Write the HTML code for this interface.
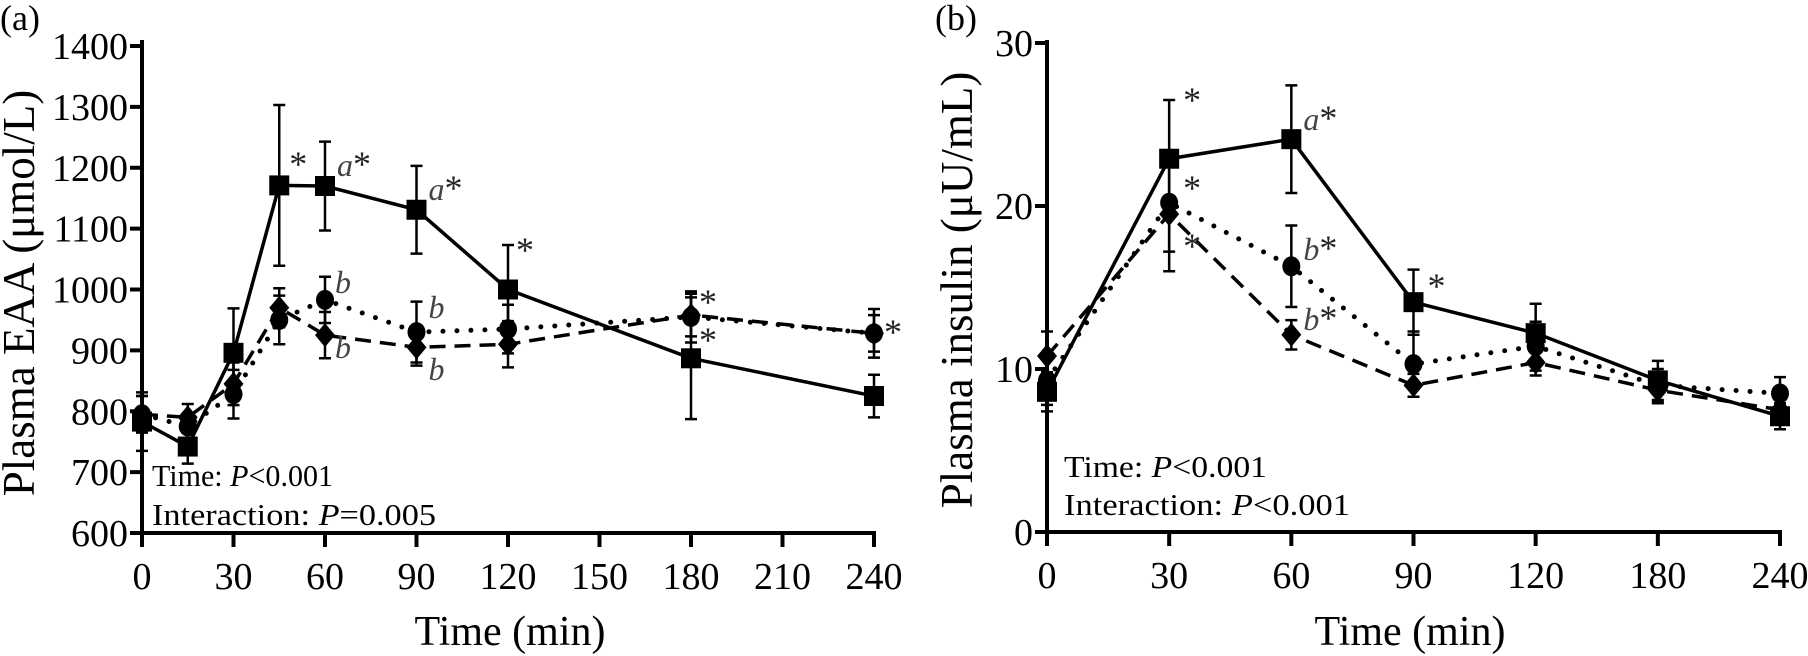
<!DOCTYPE html>
<html><head><meta charset="utf-8">
<style>
html,body{margin:0;padding:0;background:#fff;}
svg{display:block;font-family:"Liberation Serif","DejaVu Serif",serif;}
</style></head>
<body>
<svg id="fig" width="1808" height="656" viewBox="0 0 1808 656" xmlns="http://www.w3.org/2000/svg">
<text x="0" y="30" font-size="36">(a)</text>
<text x="935" y="30" font-size="36">(b)</text>
<text transform="translate(34,293) rotate(-90)" text-anchor="middle" font-size="45">Plasma EAA (μmol/L)</text>
<text transform="translate(972,290) rotate(-90)" text-anchor="middle" font-size="45">Plasma insulin (μU/mL)</text>
<text x="510" y="645" text-anchor="middle" font-size="42">Time (min)</text>
<text x="1410" y="645" text-anchor="middle" font-size="42">Time (min)</text>
<text x="152" y="486" font-size="31" textLength="181" lengthAdjust="spacingAndGlyphs">Time: <tspan font-style="italic">P</tspan>&lt;0.001</text>
<text x="152" y="525" font-size="31" textLength="284" lengthAdjust="spacingAndGlyphs">Interaction: <tspan font-style="italic">P</tspan>=0.005</text>
<text x="1064" y="477" font-size="31" textLength="203" lengthAdjust="spacingAndGlyphs">Time: <tspan font-style="italic">P</tspan>&lt;0.001</text>
<text x="1064" y="515" font-size="31" textLength="286" lengthAdjust="spacingAndGlyphs">Interaction: <tspan font-style="italic">P</tspan>&lt;0.001</text>
<g id="ga"></g><g id="gb"></g>
</svg>
<script>
// Panel A data
const timesA = [0, 15, 30, 45, 60, 90, 120, 180, 240];
const xTicksA = [0, 30, 60, 90, 120, 150, 180, 210, 240];
const yTicksA = [600, 700, 800, 900, 1000, 1100, 1200, 1300, 1400];
const eaaSquare = [783, 742, 896, 1171, 1170, 1131, 1000, 887, 825];
const eaaSquareErr = [48, 28, 73, 132, 73, 72, 73, 100, 35];
const eaaCircle = [795, 775, 828, 950, 983, 930, 935, 955, 928];
const eaaCircleErr = [30, 20, 40, 40, 38, 50, 40, 42, 40];
const eaaDiamond = [795, 790, 845, 970, 925, 905, 910, 958, 928];
const eaaDiamondErr = [30, 22, 35, 32, 38, 30, 38, 35, 30];
// Panel B data
const timesB = ['0', '30', '60', '90', '120', '180', '240'];
const yTicksB = [0, 10, 20, 30];
const insSquare = [8.6, 22.9, 24.1, 14.1, 12.2, 9.3, 7.1];
const insSquareErr = [1.2, 3.6, 3.3, 2.0, 1.8, 1.2, 0.8];
const insCircle = [9.3, 20.2, 16.3, 10.3, 11.4, 9.0, 8.5];
const insCircleErr = [1.5, 3.0, 2.5, 2.0, 1.5, 1.0, 1.0];
const insDiamond = [10.8, 19.5, 12.1, 9.0, 10.4, 8.7, 7.5];
const insDiamondErr = [1.5, 3.5, 0.9, 0.7, 0.8, 0.8, 0.7];

const NS = 'http://www.w3.org/2000/svg';
function mk(parent, tag, attrs, txt) {
  const e = document.createElementNS(NS, tag);
  for (const k in attrs) e.setAttribute(k, attrs[k]);
  if (txt !== undefined) e.textContent = txt;
  parent.appendChild(e);
  return e;
}
const xA = t => 142 + (t / 240) * (874 - 142);
const yA = v => 533 - (v - 600) / 800 * (533 - 46);
const xB = i => 1047 + i * (1780 - 1047) / 6;
const yB = v => 532 - v / 30 * (532 - 43);

function axes(g, x0, x1, y0, y1, xs, xl, ys, yl, tag) {
  let e = mk(g, 'line', {x1: x0, y1: y0, x2: x0, y2: y1, stroke: '#000', 'stroke-width': 4});
  
  
  e = mk(g, 'line', {x1: x0 - 12, y1: y0, x2: x1 + 2, y2: y0, stroke: '#000', 'stroke-width': 4});
  
  
  xs.forEach((px, i) => {
    mk(g, 'line', {x1: px, y1: y0, x2: px, y2: y0 + 14, stroke: '#000', 'stroke-width': 4});
    const t = mk(g, 'text', {x: px, y: y0 + 56, 'text-anchor': 'middle', 'font-size': 38}, xl[i]);
    
    
  });
  ys.forEach((py, i) => {
    mk(g, 'line', {x1: x0 - 12, y1: py, x2: x0, y2: py, stroke: '#000', 'stroke-width': 4});
    const t = mk(g, 'text', {x: x0 - 14, y: py + 13, 'text-anchor': 'end', 'font-size': 38}, yl[i]);
    
    
  });
}
function series(g, xs, vals, errs, ys, marker, dash, name) {
  const pts = xs.map((x, i) => x + ',' + ys(vals[i])).join(' ');
  const pl = mk(g, 'polyline', {points: pts, fill: 'none', stroke: '#000', 'stroke-width': dash === 'dot' ? 5 : 3.5,
    'stroke-dasharray': dash === 'dash' ? '16 9' : (dash === 'dot' ? '0 14' : 'none'), 'stroke-linecap': dash === 'dot' ? 'round' : 'butt'});
  
  
  xs.forEach((x, i) => {
    const yt = ys(vals[i] + errs[i]), yb = ys(vals[i] - errs[i]), y = ys(vals[i]);
    const eb = mk(g, 'path', {d: `M${x},${yt}V${yb}M${x-6},${yt}H${x+6}M${x-6},${yb}H${x+6}`, stroke: '#000', 'stroke-width': 2.5, fill: 'none'});
    
    
    let m;
    if (marker === 'square') m = mk(g, 'rect', {x: x - 10, y: y - 10, width: 20, height: 20, fill: '#000'});
    else if (marker === 'circle') m = mk(g, 'ellipse', {cx: x, cy: y, rx: 9, ry: 10, fill: '#000'});
    else m = mk(g, 'path', {d: `M${x},${y-12}L${x+10},${y}L${x},${y+12}L${x-10},${y}Z`, fill: '#000'});
    
    
  });
}
function note(g, x, y, txt, italic) {
  const t = mk(g, 'text', {x: x, y: y, 'font-size': 32, fill: '#222'});
  if (italic) { mk(t, 'tspan', {'font-style': 'italic', fill: '#444'}, italic); }
  if (txt) mk(t, 'tspan', {'font-size': 36}, txt);
  
  
}

const ga = document.getElementById('ga');
axes(ga, 142, 874, 533, 40, xTicksA.map(xA), xTicksA.map(String), yTicksA.map(yA), yTicksA.map(String), 'a');
const xpA = timesA.map(xA);
series(ga, xpA, eaaCircle, eaaCircleErr, yA, 'circle', 'dot', 'eaa-circle');
series(ga, xpA, eaaDiamond, eaaDiamondErr, yA, 'diamond', 'dash', 'eaa-diamond');
series(ga, xpA, eaaSquare, eaaSquareErr, yA, 'square', 'solid', 'eaa-square');
note(ga, xA(45) + 10, 176, '*');
note(ga, xA(60) + 12, 176, '*', 'a');
note(ga, xA(90) + 12, 200, '*', 'a');
note(ga, xA(120) + 8, 262, '*');
note(ga, xA(60) + 10, 293, '', 'b');
note(ga, xA(60) + 10, 358, '', 'b');
note(ga, xA(90) + 12, 318, '', 'b');
note(ga, xA(90) + 12, 380, '', 'b');
note(ga, xA(180) + 8, 314, '*');
note(ga, xA(180) + 8, 352, '*');
note(ga, xA(240) + 10, 344, '*');

const gb = document.getElementById('gb');
const xpB = timesB.map((t, i) => xB(i));
axes(gb, 1047, 1780, 532, 40, xpB, timesB, yTicksB.map(yB), yTicksB.map(String), 'b');
series(gb, xpB, insCircle, insCircleErr, yB, 'circle', 'dot', 'insulin-circle');
series(gb, xpB, insDiamond, insDiamondErr, yB, 'diamond', 'dash', 'insulin-diamond');
series(gb, xpB, insSquare, insSquareErr, yB, 'square', 'solid', 'insulin-square');
note(gb, xB(1) + 14, 112, '*');
note(gb, xB(1) + 14, 200, '*');
note(gb, xB(1) + 14, 258, '*');
note(gb, xB(2) + 12, 130, '*', 'a');
note(gb, xB(2) + 12, 260, '*', 'b');
note(gb, xB(2) + 12, 330, '*', 'b');
note(gb, xB(3) + 14, 298, '*');
</script>
</body></html>
